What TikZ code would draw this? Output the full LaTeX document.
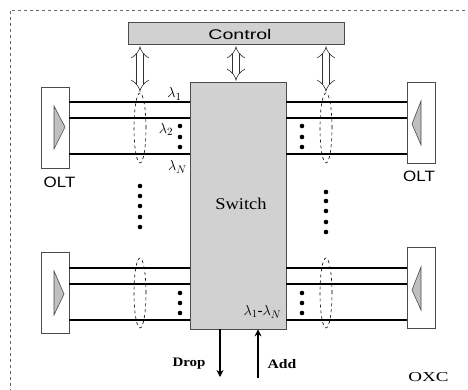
\documentclass[tikz,border=0pt]{standalone}
\usepackage{fontspec}
\setmainfont{Liberation Serif}
\usetikzlibrary{shapes.geometric,arrows.meta,calc}
\newfontfamily\sansf{Liberation Sans}
\newcommand{\wide}[2]{\scalebox{#1}[1]{#2}}
\begin{document}
\begin{tikzpicture}[x=1pt,y=-1pt,
  boxfill/.style={draw=black!70, fill=black!18, line width=0.6pt},
  oltbox/.style={draw=black!70, fill=white, line width=0.6pt, minimum width=28pt, minimum height=81pt, inner sep=0pt},
  fiber/.style={line width=1.7pt, black},
  bundle/.style={draw, dashed, ellipse, line width=0.6pt, minimum width=12pt, minimum height=70pt, inner sep=0pt},
  harrow/.style={draw=black!80, line width=0.6pt, double=white, double distance=6pt, {Implies[length=6pt]}-{Implies[length=6pt]}},
  dot/.style={circle, fill=black, inner sep=0pt, minimum size=4.6pt},
  tri/.style={draw=black!70, fill=black!25, line width=0.6pt},
  lam/.style={font=\fontsize{15}{15}\selectfont, inner sep=0pt},
  sanslab/.style={font=\sansf\fontsize{15}{15}\selectfont, inner sep=0pt},
  flowarr/.style={line width=2.4pt, -{Stealth[length=7pt,width=7pt]}}
]
\useasboundingbox (0,0) rectangle (468,390);
% outer dashed frame
\draw[dashed, black!60, line width=0.5pt] (10,392) -- (10,10) -- (470,10);

% control and switch
\node[boxfill, minimum width=216pt, minimum height=22pt, inner sep=0pt] (ctrl) at (236,33) {};
\node[font=\sansf\fontsize{14}{14}\selectfont, inner sep=0pt] (ctrltxt) at (240,34) {\wide{1.4}{Control}};
\node[boxfill, minimum width=96pt, minimum height=247pt, inner sep=0pt] (sw) at (238,205.5) {};
\node[font=\fontsize{16.5}{16.5}\selectfont, inner sep=0pt] (swtxt) at (241,204) {\wide{1.12}{Switch}};

% OLT boxes
\node[oltbox] (oltA) at (55,127.5) {};
\node[oltbox] (oltB) at (421,123) {};
\node[oltbox] (oltC) at (55,293) {};
\node[oltbox] (oltD) at (421,288) {};
\node[sanslab] (la) at (59.5,182.5) {\wide{1.13}{OLT}};
\node[sanslab] (lb) at (419,176.5) {\wide{1.13}{OLT}};

% triangles
\draw[tri] (54,106) -- (65,127) -- (54,149) -- cycle;
\draw[tri] (421,101) -- (412,124) -- (421,145) -- cycle;
\draw[tri] (54,271) -- (64,294) -- (54,315) -- cycle;
\draw[tri] (421,267) -- (412,290) -- (421,310) -- cycle;

% fibers
\foreach \y in {102,118,154}{
  \draw[fiber] (oltA.east |- 0,\y) -- (sw.west |- 0,\y);
  \draw[fiber] (sw.east |- 0,\y) -- (oltB.west |- 0,\y);
}
\foreach \y in {268,284,320}{
  \draw[fiber] (oltC.east |- 0,\y) -- (sw.west |- 0,\y);
  \draw[fiber] (sw.east |- 0,\y) -- (oltD.west |- 0,\y);
}

% bundles
\node[bundle] (eA) at (140,128) {};
\node[bundle] (eB) at (326,128) {};
\node[bundle] (eC) at (140,293) {};
\node[bundle] (eD) at (326,293) {};

% hollow control arrows
\draw[harrow] (ctrl.south -| eA.north) ++(0,2) coordinate (ca) (ca) -- ($(eA.north)+(0,-1)$);
\draw[harrow] ($(ctrl.south)+(0,2)$) -- ($(sw.north -| ctrl.south)+(0,-1)$);
\draw[harrow] (ctrl.south -| eB.north) ++(0,2) coordinate (cb) (cb) -- ($(eB.north)+(0,-1)$);

% dots between fibers
\foreach \y in {126,137,147}{
  \node[dot] at (180,\y) {};
  \node[dot] at (302,\y) {};
}
\foreach \y in {293,303,313}{
  \node[dot] at (180,\y) {};
  \node[dot] at (302,\y) {};
}
% vertical dots
\foreach \y in {186,196,206,217,227}{ \node[dot] at (140,\y) {}; }
\foreach \y in {192,201,211,222,232}{ \node[dot] at (326,\y) {}; }

% wavelength labels
\node[lam] (l1) at (174.5,94) {$\lambda_1$};
\node[lam] (l2) at (166,129.5) {$\lambda_2$};
\node[lam] (lN) at (177.5,167) {$\lambda_N$};
\node[lam] (l1N) at (262.5,312) {$\lambda_1$-$\lambda_N$};

% drop / add
\coordinate (dropend) at (220,377);
\coordinate (addstart) at (258,378);
\draw[flowarr] (sw.south -| dropend) -- (dropend);
\draw[flowarr] (addstart) -- (sw.south -| addstart);
\node[font=\fontsize{13}{13}\selectfont\bfseries, inner sep=0pt] (drop) at (189,364) {\wide{1.15}{Drop}};
\node[font=\fontsize{13}{13}\selectfont\bfseries, inner sep=0pt] (add) at (282,364) {\wide{1.2}{Add}};
\node[font=\fontsize{13.6}{13.6}\selectfont, inner sep=0pt] (oxc) at (428.5,377) {\wide{1.4}{OXC}};
\end{tikzpicture}
\end{document}
